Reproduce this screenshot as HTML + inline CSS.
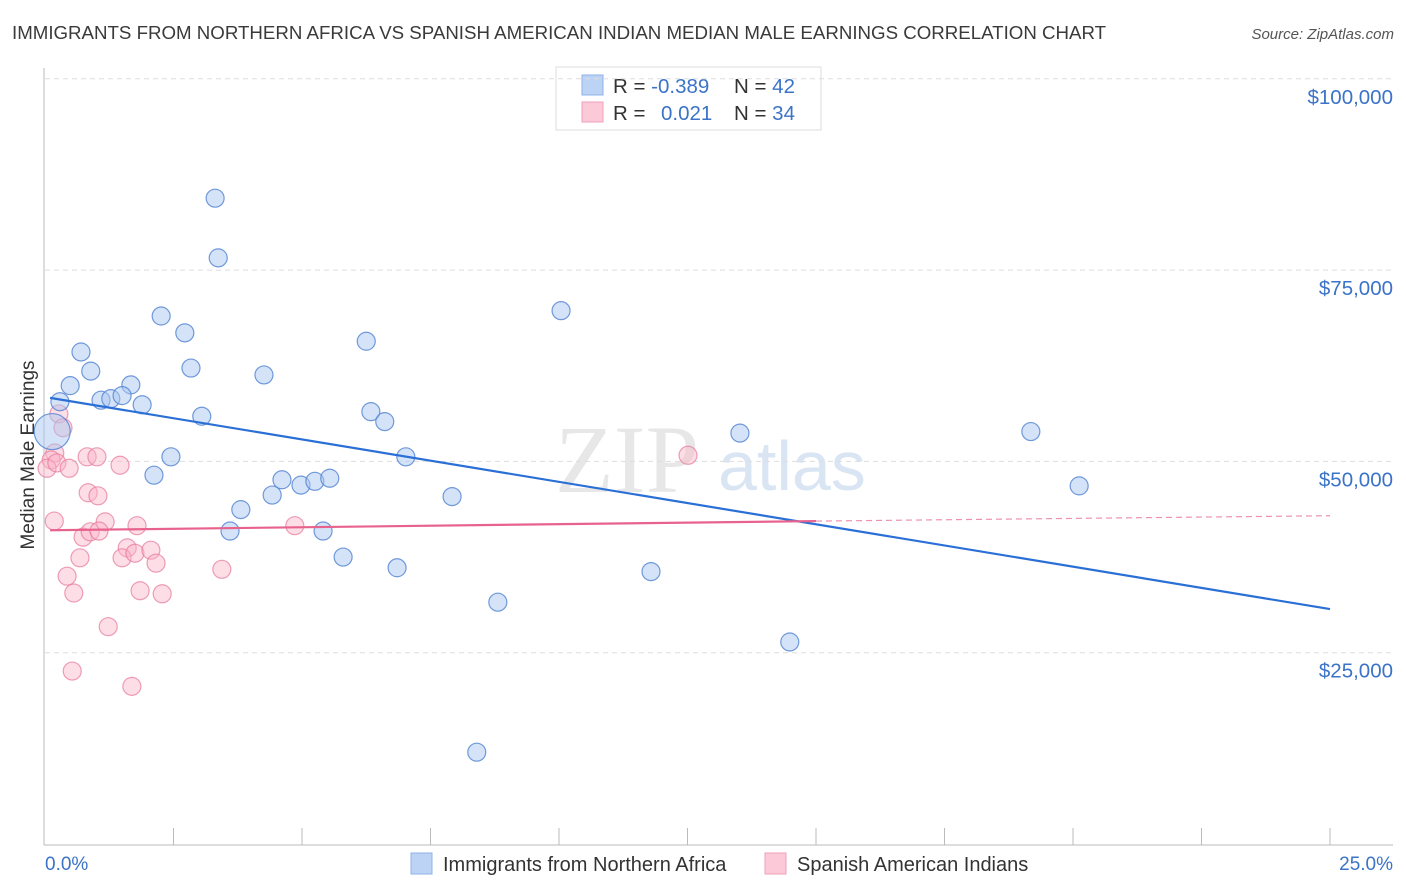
<!DOCTYPE html>
<html><head><meta charset="utf-8"><style>
body{margin:0;background:#fff;font-family:"Liberation Sans",sans-serif;}
svg{display:block}
</style></head><body>
<svg id="chart" width="1406" height="892">
<text x="12" y="39" font-size="18.7" fill="#3a3a3a">IMMIGRANTS FROM NORTHERN AFRICA VS SPANISH AMERICAN INDIAN MEDIAN MALE EARNINGS CORRELATION CHART</text>
<text x="1394" y="39" font-size="15" fill="#555" font-style="italic" text-anchor="end">Source: ZipAtlas.com</text>
<g>
<text x="555" y="492" font-size="96" fill="#d8d8d8" font-family="Liberation Serif,serif" opacity="0.6">ZIP</text>
<text x="718" y="490" font-size="70" fill="#b7cdea" opacity="0.5">atlas</text>
</g>
<text transform="translate(34,455) rotate(-90)" font-size="19" fill="#333" text-anchor="middle">Median Male Earnings</text>
<text x="45" y="870" font-size="19" fill="#3b73c8">0.0%</text>
<text x="1393" y="870" font-size="19" fill="#3b73c8" text-anchor="end">25.0%</text>
<g>
<rect x="556" y="67" width="265" height="63" fill="#fff" stroke="#ddd"/>
<rect x="582" y="75" width="21" height="20" fill="#bcd3f5" stroke="#8fb0e6"/>
<rect x="582" y="102" width="21" height="20" fill="#fcc9d8" stroke="#f0a0b8"/>
<text x="613" y="93" font-size="20.5" fill="#333">R = <tspan fill="#3b73c8">-0.389</tspan></text>
<text x="734" y="93" font-size="20.5" fill="#333">N = <tspan fill="#3b73c8">42</tspan></text>
<text x="613" y="120" font-size="20.5" fill="#333">R = <tspan fill="#3b73c8" x="661">0.021</tspan></text>
<text x="734" y="120" font-size="20.5" fill="#333">N = <tspan fill="#3b73c8">34</tspan></text>
</g>
<g>
<rect x="411" y="853" width="21" height="21" fill="#bcd3f5" stroke="#8fb0e6"/>
<text x="443" y="871" font-size="20" fill="#333">Immigrants from Northern Africa</text>
<rect x="765" y="853" width="21" height="21" fill="#fcc9d8" stroke="#f0a0b8"/>
<text x="797" y="871" font-size="20" fill="#333">Spanish American Indians</text>
</g>
<g id="axes"></g><g id="marks"></g>
</svg>
<script>
const yTicks=[25000,50000,75000,100000];
const yTickLabels=["$25,000","$50,000","$75,000","$100,000"];
const blueX=[3.31,3.37,2.26,2.72,0.70,0.89,2.84,0.49,1.67,1.09,1.28,1.50,1.89,0.29,3.05,4.26,6.25,10.04,6.34,6.61,7.02,2.45,2.12,4.61,4.42,4.98,5.25,5.54,3.81,3.60,5.41,5.80,6.85,7.92,8.81,11.79,13.52,14.49,19.18,20.12,8.40,0.14];
const blueY=[84400,76600,69000,66800,64300,61800,62200,59900,60000,58000,58200,58600,57400,57800,55900,61300,65700,69700,56500,55200,50600,50600,48200,47600,45600,46900,47400,47800,43700,40900,40900,37500,36100,45400,31600,35600,53700,26400,53900,46800,12000,53900];
const pinkX=[0.27,0.35,0.19,0.12,0.04,0.23,0.47,0.82,1.01,1.46,0.84,1.03,0.18,0.74,0.88,1.17,1.05,1.79,1.60,1.50,1.75,2.06,2.16,0.68,0.43,0.56,1.85,2.28,1.23,0.53,1.69,3.44,4.86,12.51];
const pinkY=[56200,54400,51100,50200,49100,49800,49100,50600,50600,49500,45900,45500,42200,40100,40800,42100,40900,41600,38700,37400,38000,38400,36700,37400,35000,32800,33100,32700,28400,22600,20600,35900,41600,50800];
const blueTrendX=[0.1,25];const blueTrendY=[58300,30700];
const pinkTrendX=[0.1,15,25];const pinkTrendY=[41000,42200,42900];
const X=v=>45+v/25*1285, Y=v=>844-v/25000*191.3;
const NS="http://www.w3.org/2000/svg";
const axes=document.getElementById('axes'),marks=document.getElementById('marks');
function mk(p,tag,at){const e=document.createElementNS(NS,tag);for(const k in at)e.setAttribute(k,at[k]);p.appendChild(e);return e;}
yTicks.forEach((t,i)=>{
 const g=mk(axes,'line',{x1:45,x2:1393,y1:Y(t),y2:Y(t),stroke:'#ddd','stroke-dasharray':'5,4'});
 
 
 const l=mk(axes,'text',{x:1393,y:Y(t)+25,'font-size':20.5,fill:'#3b73c8','text-anchor':'end'});
 l.textContent=yTickLabels[i];
 
 
});
const ax=mk(axes,'line',{x1:44,x2:44,y1:68,y2:845,stroke:'#bbb'});


const bx=mk(axes,'line',{x1:44,x2:1393,y1:845,y2:845,stroke:'#bbb'});


for(let k=1;k<=10;k++){const t=mk(axes,'line',{x1:X(k*2.5),x2:X(k*2.5),y1:828,y2:845,stroke:'#bbb'});
 
 }
function dots(xs,ys,fill,stroke,name){xs.forEach((x,i)=>{const r=(name==='blue-point'&&i===xs.length-1)?18:9;
 const c=mk(marks,'circle',{cx:X(x),cy:Y(ys[i]),r:r,fill:fill,stroke:stroke,'stroke-width':1.2});
 
 });}
dots(pinkX,pinkY,'rgba(250,180,200,0.45)','rgba(230,120,155,0.7)','pink-point');
dots(blueX,blueY,'rgba(170,200,240,0.5)','rgba(80,130,210,0.8)','blue-point');
const bl=mk(marks,'line',{x1:X(blueTrendX[0]),y1:Y(blueTrendY[0]),x2:X(blueTrendX[1]),y2:Y(blueTrendY[1]),stroke:'#2a6fd6','stroke-width':2.2});


const pl=mk(marks,'line',{x1:X(pinkTrendX[0]),y1:Y(pinkTrendY[0]),x2:X(pinkTrendX[1]),y2:Y(pinkTrendY[1]),stroke:'#e8628e','stroke-width':2.2});


const pd=mk(marks,'line',{x1:X(pinkTrendX[1]),y1:Y(pinkTrendY[1]),x2:X(pinkTrendX[2]),y2:Y(pinkTrendY[2]),stroke:'#e8628e','stroke-width':1.2,'stroke-dasharray':'6,4',opacity:0.7});


</script>
</body></html>
